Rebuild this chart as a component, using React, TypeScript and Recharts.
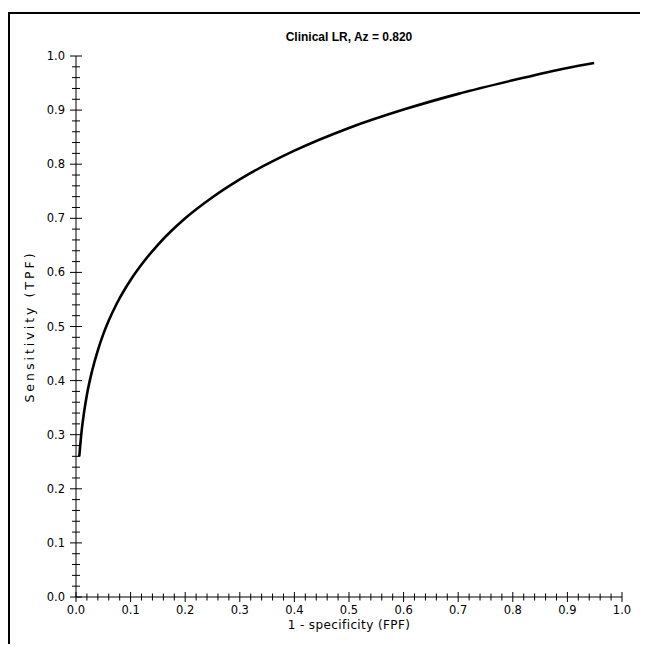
import React from 'react';
import { LineChart, Line, XAxis, YAxis, Label } from 'recharts';

const fpf = [0.006, 0.01, 0.015, 0.02, 0.03, 0.04, 0.05, 0.06, 0.075, 0.1, 0.125, 0.15, 0.2, 0.25, 0.3, 0.4, 0.5, 0.6, 0.7, 0.8, 0.9, 0.949];
const tpf = [0.26, 0.304, 0.343, 0.374, 0.42, 0.456, 0.486, 0.511, 0.543, 0.586, 0.621, 0.651, 0.7, 0.739, 0.772, 0.825, 0.867, 0.901, 0.93, 0.955, 0.978, 0.987];

const majorTicks = [0, 0.1, 0.2, 0.3, 0.4, 0.5, 0.6, 0.7, 0.8, 0.9, 1.0];
const allTicks = Array.from({ length: 51 }, (_, i) => Math.round(i * 2) / 100);

const title = 'Clinical LR, Az = 0.820';
const xTitle = '1 - specificity (FPF)';
const yTitle = 'Sensitivity (TPF)';

const data = fpf.map((x, i) => ({ x, y: tpf[i] }));

const FONT = '"Liberation Sans", Arial, sans-serif';
const TFONT = '"DejaVu Sans", Verdana, sans-serif';
const isMajor = (v: number) => majorTicks.some((m) => Math.abs(m - v) < 1e-6);

const BottomTick = (props: any) => {
  const { x, y, payload } = props;
  const v = payload.value as number;
  const m = isMajor(v);
  const len = m ? 5 : 3.5;
  return (
    <g>
      <line x1={x} x2={x} y1={y - len} y2={y + len} stroke="#000" strokeWidth={1} />
      {m && (
        <text x={x} y={y + 17} textAnchor="middle" fontSize={11.5} fontFamily={TFONT} fill="#000">
          {v.toFixed(1)}
        </text>
      )}
    </g>
  );
};

const LeftTick = (props: any) => {
  const { x, y, payload } = props;
  const v = payload.value as number;
  const m = isMajor(v);
  const len = m ? 6 : 4;
  return (
    <g>
      <line x1={x - len} x2={x + len} y1={y} y2={y} stroke="#000" strokeWidth={1} />
      {m && (
        <text x={x - 11} y={y + 4} textAnchor="end" fontSize={11.5} fontFamily={TFONT} fill="#000">
          {v.toFixed(1)}
        </text>
      )}
    </g>
  );
};

const TopTick = (props: any) => {
  const { x, y, payload } = props;
  const v = payload.value as number;
  const len = isMajor(v) ? 7 : 4;
  return <line x1={x} x2={x} y1={y} y2={y + len} stroke="#000" strokeWidth={1} />;
};

const RightTick = (props: any) => {
  const { x, y, payload } = props;
  const v = payload.value as number;
  const len = isMajor(v) ? 7 : 3.5;
  return <line x1={x - len} x2={x} y1={y} y2={y} stroke="#000" strokeWidth={1} />;
};

export default function App() {
  return (
    <div style={{ position: 'relative', width: 640, height: 636, overflow: 'hidden', background: '#fff' }}>
      <div
        style={{
          position: 'absolute',
          left: 0,
          top: 4,
          width: 639,
          height: 700,
          boxSizing: 'border-box',
          borderTop: '2px solid #000',
          borderLeft: '2px solid #000',
          borderRight: '2px solid #000',
        }}
      />
      <div
        style={{
          position: 'absolute',
          left: 68,
          width: 546,
          top: 21,
          lineHeight: '16px',
          textAlign: 'center',
          fontFamily: FONT,
          fontSize: 12,
          fontWeight: 'bold',
          color: '#000',
        }}
      >
        {title}
      </div>
      <div style={{ position: 'absolute', left: 0, top: 0 }}>
        <LineChart width={640} height={636} data={data} margin={{ top: 48, right: 26, bottom: 0, left: 0 }}>
          <XAxis
            xAxisId="b"
            dataKey="x"
            type="number"
            domain={[0, 1]}
            ticks={allTicks}
            interval={0}
            height={47}
            tickLine={false}
            tickSize={0}
            tickMargin={0}
            axisLine={{ stroke: '#000', strokeWidth: 1 }}
            tick={BottomTick}
          >
            <Label
              content={(p: any) => (
                <text
                  x={p.viewBox.x + p.viewBox.width / 2}
                  y={p.viewBox.y + 32}
                  textAnchor="middle"
                  fontSize={12}
                  letterSpacing={0.4}
                  fontFamily={TFONT}
                  fill="#000"
                >
                  {xTitle}
                </text>
              )}
            />
          </XAxis>
          <XAxis
            xAxisId="t"
            orientation="top"
            dataKey="x"
            type="number"
            domain={[0, 1]}
            ticks={allTicks}
            interval={0}
            height={0}
            tickLine={false}
            tickSize={0}
            tickMargin={0}
            axisLine={{ stroke: '#000', strokeWidth: 1 }}
            tick={TopTick}
          />
          <YAxis
            yAxisId="l"
            type="number"
            domain={[0, 1]}
            ticks={allTicks}
            interval={0}
            width={68}
            tickLine={false}
            tickSize={0}
            tickMargin={0}
            axisLine={{ stroke: '#000', strokeWidth: 1 }}
            tick={LeftTick}
          >
            <Label
              content={(p: any) => {
                const cx = 21;
                const cy = p.viewBox.y + p.viewBox.height / 2;
                return (
                  <text
                    x={cx}
                    y={cy}
                    transform={`rotate(-90 ${cx} ${cy})`}
                    textAnchor="middle"
                    dominantBaseline="central"
                    fontSize={12.5}
                    letterSpacing={3}
                    fontFamily={TFONT}
                    fill="#000"
                  >
                    {yTitle}
                  </text>
                );
              }}
            />
          </YAxis>
          <YAxis
            yAxisId="r"
            orientation="right"
            type="number"
            domain={[0, 1]}
            ticks={allTicks}
            interval={0}
            width={0}
            tickLine={false}
            tickSize={0}
            tickMargin={0}
            axisLine={{ stroke: '#000', strokeWidth: 1 }}
            tick={RightTick}
          />
          <Line
            xAxisId="b"
            yAxisId="l"
            dataKey="y"
            type="monotone"
            stroke="#000"
            strokeWidth={2.6}
            dot={false}
            isAnimationActive={false}
          />
        </LineChart>
      </div>
    </div>
  );
}
